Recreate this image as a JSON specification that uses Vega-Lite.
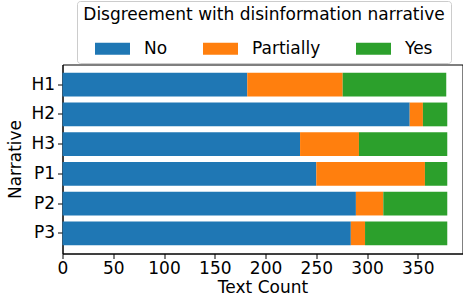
{
  "$schema": "https://vega.github.io/schema/vega-lite/v6.json",
  "width": 400,
  "height": 189,
  "autosize": "none",
  "padding": {"left": 62.5, "top": 64.5, "right": 0.5, "bottom": 46.5},
  "config": {
    "font": "DejaVu Sans",
    "view": {"stroke": "black", "strokeWidth": 1},
    "axis": {
      "grid": false,
      "domainColor": "black",
      "tickColor": "black",
      "labelColor": "black",
      "titleColor": "black",
      "labelFontSize": 17,
      "titleFontSize": 17,
      "titleFontWeight": "normal",
      "tickSize": 5,
      "labelFont": "DejaVu Sans",
      "titleFont": "DejaVu Sans"
    },
    "legend": {
      "labelFontSize": 17,
      "titleFontSize": 17,
      "titleFontWeight": "normal",
      "labelColor": "black",
      "titleColor": "black",
      "titleLimit": 600,
      "labelLimit": 300
    }
  },
  "data": {
    "values": [
      {"Narrative": "H1", "Disagreement": "No", "Count": 182, "o": 1},
      {"Narrative": "H1", "Disagreement": "Partially", "Count": 94, "o": 2},
      {"Narrative": "H1", "Disagreement": "Yes", "Count": 102, "o": 3},
      {"Narrative": "H2", "Disagreement": "No", "Count": 342, "o": 1},
      {"Narrative": "H2", "Disagreement": "Partially", "Count": 13, "o": 2},
      {"Narrative": "H2", "Disagreement": "Yes", "Count": 24, "o": 3},
      {"Narrative": "H3", "Disagreement": "No", "Count": 234, "o": 1},
      {"Narrative": "H3", "Disagreement": "Partially", "Count": 58, "o": 2},
      {"Narrative": "H3", "Disagreement": "Yes", "Count": 87, "o": 3},
      {"Narrative": "P1", "Disagreement": "No", "Count": 250, "o": 1},
      {"Narrative": "P1", "Disagreement": "Partially", "Count": 107, "o": 2},
      {"Narrative": "P1", "Disagreement": "Yes", "Count": 22, "o": 3},
      {"Narrative": "P2", "Disagreement": "No", "Count": 289, "o": 1},
      {"Narrative": "P2", "Disagreement": "Partially", "Count": 27, "o": 2},
      {"Narrative": "P2", "Disagreement": "Yes", "Count": 63, "o": 3},
      {"Narrative": "P3", "Disagreement": "No", "Count": 284, "o": 1},
      {"Narrative": "P3", "Disagreement": "Partially", "Count": 14, "o": 2},
      {"Narrative": "P3", "Disagreement": "Yes", "Count": 81, "o": 3}
    ]
  },
  "mark": {"type": "bar"},
  "encoding": {
    "y": {
      "field": "Narrative",
      "type": "nominal",
      "sort": ["H1", "H2", "H3", "P1", "P2", "P3"],
      "scale": {"paddingInner": 0.2, "paddingOuter": 0.28},
      "axis": {"title": "Narrative", "labelPadding": 3, "titlePadding": 6}
    },
    "x": {
      "field": "Count",
      "type": "quantitative",
      "stack": "zero",
      "scale": {"domain": [0, 394], "nice": false},
      "axis": {"title": "Text Count", "values": [0, 50, 100, 150, 200, 250, 300, 350], "labelPadding": 2, "titlePadding": 3, "labelFlush": false}
    },
    "color": {
      "field": "Disagreement",
      "type": "nominal",
      "scale": {"domain": ["No", "Partially", "Yes"], "range": ["#1f77b4", "#ff7f0e", "#2ca02c"]},
      "legend": {
        "title": "Disgreement with disinformation narrative",
        "orient": "none",
        "legendX": 14.5,
        "legendY": -63.5,
        "direction": "horizontal",
        "columns": 3,
        "symbolType": "M-1,-0.343H1V0.343H-1Z",
        "symbolSize": 1225,
        "symbolStrokeWidth": 0,
        "labelOffset": 14,
        "columnPadding": 35,
        "titleAnchor": "middle",
        "titlePadding": 7,
        "strokeColor": "#cccccc",
        "cornerRadius": 3,
        "padding": 6,
        "fillColor": "white"
      }
    },
    "order": {"field": "o", "type": "quantitative"}
  }
}
